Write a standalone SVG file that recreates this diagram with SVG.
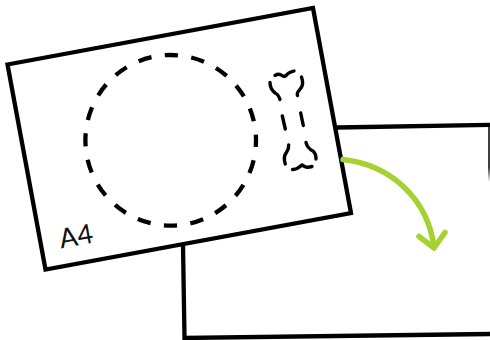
<svg xmlns="http://www.w3.org/2000/svg" width="490" height="340" viewBox="0 0 490 340">
<defs>
<linearGradient id="fade" gradientUnits="userSpaceOnUse" x1="0" y1="124" x2="0" y2="182"><stop offset="0" stop-color="#000"/><stop offset="0.75" stop-color="#000"/><stop offset="1" stop-color="#000" stop-opacity="0"/></linearGradient>
</defs>
<style>
.s{fill:none;stroke:#000;stroke-width:4.300}
.bone{fill:none;stroke:#000;stroke-width:3.400;stroke-linecap:round;stroke-linejoin:round}
.g{fill:none;stroke:#a5d133;stroke-width:5.500;stroke-linecap:round;stroke-linejoin:round}
</style>
<rect width="490" height="340" fill="#fff"/>
<g id="back-sheet">
<path class="s" d="M337,127.500L490,124.800"/>
<path class="s" d="M183,245L184.500,338L490,334"/>
<path d="M489,125V182" fill="none" stroke="url(#fade)" stroke-width="1.500"/>
</g>
<g id="a4-sheet">
<path class="s" fill="#fff" d="M7.500,64.500L313,8L351,213L45.500,269.500Z"/>
<text x="0" y="0" transform="translate(61,248.500) rotate(-10.400)" font-family="Lato, sans-serif" font-size="27" fill="#111">A4</text>
</g>
<g id="dashed-circle">
<circle cx="170.700" cy="140.300" r="85.300" fill="none" stroke="#000" stroke-width="4.300" stroke-dasharray="13.400 13.400" stroke-dashoffset="6.700"/>
</g>
<g id="bone">
<path class="bone" d="M275,75.500C277.500,74 280,74 282,75.500C284,77 285.500,76.500 287,74.500C289,72 291.500,72 294,71"/>
<path class="bone" d="M270,82.500C270,88 272,90 275,93C278,94 279,97 280,99.500"/>
<path class="bone" d="M301.500,77C303.500,83 303,86 299.500,90C297,92 297,95 297.500,95.500"/>
<path class="bone" d="M282.300,116L285.300,129"/>
<path class="bone" d="M300.700,113L303.300,125.500"/>
<path class="bone" d="M288.700,145C289,149 288,150 286,153C284,156 284,160 285.300,164"/>
<path class="bone" d="M306,142.500C307,147 309,149 313,151C315.500,153 316,156 316,159"/>
<path class="bone" d="M292.500,169.500C297,170 299,167 302,165C305,167 307,168 312,166.500"/>
</g>
<g id="connectors">
<path class="g" d="M343,159.500C392,165 428,200 434,247"/>
<path class="g" d="M419,236.500L434,248L445,232.500"/>
</g>
</svg>
